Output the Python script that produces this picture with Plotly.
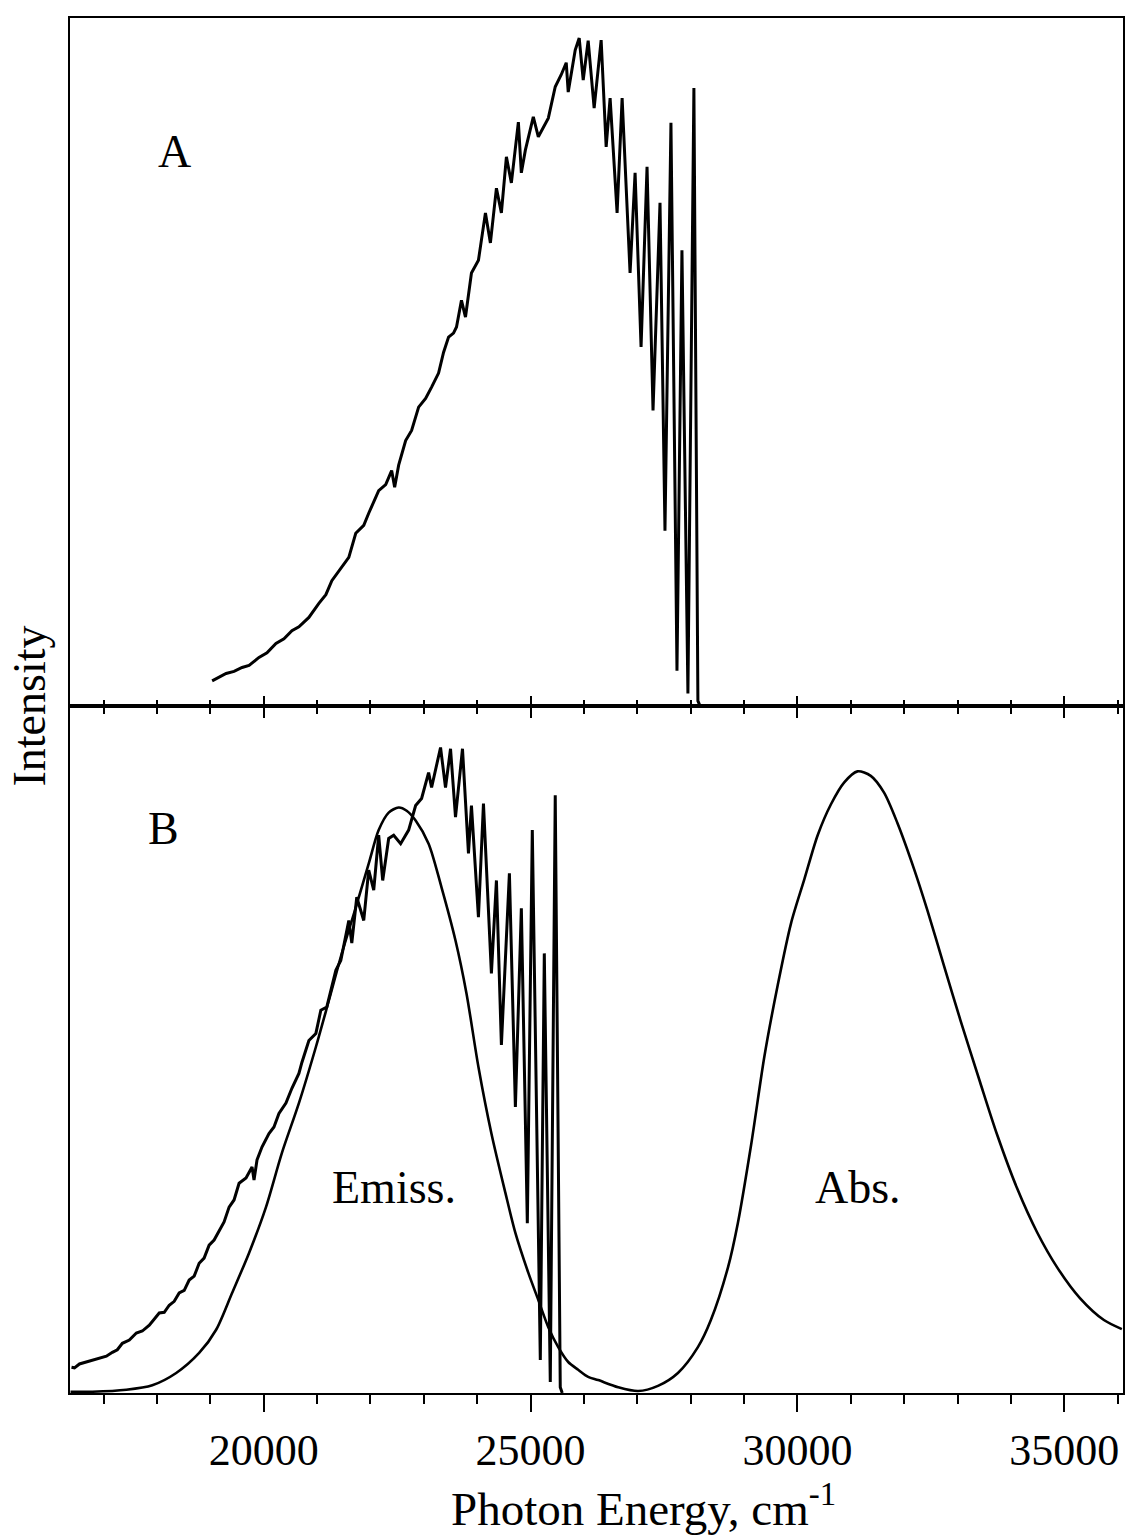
import plotly.graph_objects as go
from plotly.subplots import make_subplots

# Panel A emission spectrum (photon energy cm^-1, relative intensity)
a_energy = [19033, 19164, 19295, 19444, 19594, 19725, 19911, 20061, 20229, 20379,
            20528, 20659, 20846, 21033, 21164, 21276, 21463, 21594, 21724, 21874,
            21967, 22154, 22285, 22397, 22453, 22528, 22659, 22771, 22902, 23033,
            23145, 23276, 23369, 23463, 23556, 23612, 23705, 23780, 23892, 24023,
            24154, 24247, 24360, 24453, 24547, 24640, 24771, 24827, 24902, 25051,
            25145, 25238, 25332, 25462, 25574, 25668, 25705, 25836, 25911, 25986,
            26079, 26191, 26322, 26416, 26490, 26621, 26715, 26864, 26958, 27070,
            27182, 27294, 27425, 27518, 27630, 27743, 27836, 27948, 28060, 28135,
            28172]
a_intensity = [3.7, 4.3, 4.8, 5.1, 5.7, 6.0, 7.2, 7.9, 9.3, 10.0,
               11.2, 11.8, 13.2, 15.3, 16.6, 18.7, 20.7, 22.2, 25.8, 27.0,
               28.8, 32.2, 33.1, 35.2, 32.7, 36.0, 39.7, 41.2, 44.7, 46.0,
               47.7, 49.8, 52.9, 55.2, 55.8, 56.7, 60.7, 58.2, 64.8, 66.7,
               73.8, 69.3, 77.5, 73.8, 82.2, 78.3, 87.4, 79.8, 83.2, 88.2,
               85.2, 86.5, 88.0, 92.7, 94.5, 96.3, 91.9, 98.2, 100.0, 93.7,
               99.6, 89.5, 99.7, 83.7, 91.0, 73.8, 91.0, 64.8, 79.8, 53.7,
               80.7, 44.2, 75.3, 26.2, 87.3, 5.2, 68.2, 1.8, 92.5, 0.7,
               0.0]

# Panel B emission spectrum
b_energy = [16398, 16454, 16547, 16678, 16790, 16921, 17052, 17164, 17257, 17351,
            17482, 17613, 17725, 17856, 18042, 18136, 18229, 18323, 18416, 18510,
            18603, 18697, 18790, 18883, 18977, 19070, 19164, 19257, 19351, 19444,
            19538, 19668, 19781, 19818, 19874, 19967, 20098, 20192, 20285, 20416,
            20528, 20659, 20715, 20846, 20977, 21070, 21182, 21276, 21351, 21444,
            21537, 21594, 21650, 21743, 21874, 21967, 22061, 22154, 22229, 22341,
            22435, 22565, 22715, 22846, 22958, 23033, 23089, 23145, 23276, 23313,
            23406, 23500, 23593, 23724, 23836, 23892, 24023, 24117, 24266, 24360,
            24453, 24603, 24715, 24827, 24939, 25032, 25182, 25257, 25369, 25462,
            25556, 25593]
b_intensity = [4.0, 3.9, 4.5, 4.8, 5.0, 5.4, 5.7, 6.3, 6.7, 7.7,
               8.2, 9.3, 9.6, 10.5, 12.4, 12.5, 13.6, 14.2, 15.5, 15.9,
               17.5, 18.1, 20.1, 20.9, 22.9, 23.7, 25.2, 26.5, 28.8, 29.9,
               32.5, 33.3, 35.0, 33.0, 36.1, 38.1, 40.2, 41.2, 43.3, 44.9,
               47.2, 49.5, 51.2, 54.6, 55.7, 59.3, 59.8, 63.2, 65.5, 67.0,
               70.6, 73.2, 69.7, 76.8, 73.2, 81.0, 77.9, 86.4, 79.4, 85.9,
               86.4, 85.1, 87.2, 91.0, 92.1, 94.4, 96.1, 93.8, 98.5, 100.0,
               93.8, 99.8, 89.2, 99.8, 83.6, 91.0, 73.7, 91.3, 65.0, 79.4,
               53.9, 80.5, 44.3, 75.1, 26.3, 87.2, 5.1, 68.1, 1.7, 92.6,
               0.9, 0.0]

# Panel B smooth emission + absorption band
s_energy = [16380, 16790, 17426, 17912, 18360, 18790, 19108, 19407, 19725, 20042,
            20341, 20659, 20977, 21220, 21463, 21724, 21967, 22154, 22341, 22528,
            22678, 22846, 23089, 23332, 23593, 23799, 24023, 24266, 24528, 24715,
            24958, 25145, 25332, 25518, 25705, 25892, 26079, 26266, 26640, 27014,
            27387, 27761, 28135, 28378, 28700, 28883, 29133, 29382, 29631, 29881,
            30130, 30379, 30628, 30877, 31125, 31374, 31623, 31873, 32184, 32434,
            32745, 33056, 33424, 33742, 34116, 34490, 34863, 35293, 35742, 36078]
s_intensity = [0.2, 0.2, 0.5, 1.2, 3.1, 6.2, 9.8, 15.5, 21.7, 28.8,
               37.2, 44.9, 53.6, 60.8, 68.1, 75.2, 82.0, 87.2, 89.9, 90.7,
               90.2, 88.7, 85.1, 78.3, 70.1, 61.9, 50.5, 40.2, 31.0, 24.8,
               18.6, 14.4, 10.2, 7.1, 4.8, 3.6, 2.5, 2.0, 0.9, 0.3,
               1.1, 3.1, 7.1, 11.3, 19.5, 26.3, 38.5, 52.2, 63.2, 72.8,
               79.6, 86.4, 91.2, 94.6, 96.3, 95.6, 93.0, 88.3, 81.2, 74.8,
               66.2, 57.7, 48.1, 40.0, 31.7, 24.9, 19.5, 14.7, 11.3, 9.9]

x_range = [16370, 36100]
x_ticks = [20000, 25000, 30000, 35000]
x_ticklabels = ["20000", "25000", "30000", "35000"]

FONT = "Liberation Serif"
LW = 3.0

fig = make_subplots(rows=2, cols=1, shared_xaxes=True, vertical_spacing=0)

fig.add_trace(go.Scatter(x=a_energy, y=a_intensity, mode="lines",
                         line=dict(color="black", width=LW), showlegend=False), row=1, col=1)
fig.add_trace(go.Scatter(x=b_energy, y=b_intensity, mode="lines",
                         line=dict(color="black", width=LW), showlegend=False), row=2, col=1)
fig.add_trace(go.Scatter(x=s_energy, y=s_intensity, mode="lines",
                         line=dict(color="black", width=2.6, shape="spline", smoothing=0.8),
                         showlegend=False), row=2, col=1)
# helper trace for the upward ticks on the shared middle axis
fig.add_trace(go.Scatter(x=[None], y=[None], xaxis="x3", yaxis="y", showlegend=False))

common_x = dict(range=x_range, showline=True, linecolor="black", linewidth=2,
                showgrid=False, zeroline=False, tickvals=x_ticks, ticktext=x_ticklabels,
                tickcolor="black", tickwidth=2)

fig.update_xaxes(**common_x)
fig.update_layout(
    xaxis=dict(mirror=True, ticks="outside", ticklen=10, showticklabels=False,
               minor=dict(dtick=1000, tick0=0, ticks="outside", ticklen=6,
                          tickcolor="black", tickwidth=2)),
    xaxis2=dict(mirror=True, ticks="outside", ticklen=17, showticklabels=True,
                tickfont=dict(family=FONT, size=44, color="black"),
                minor=dict(dtick=1000, tick0=0, ticks="outside", ticklen=9,
                           tickcolor="black", tickwidth=2)),
    xaxis3=dict(overlaying="x", anchor="y", side="bottom", range=x_range,
                showline=False, showgrid=False, zeroline=False,
                tickvals=x_ticks, ticks="inside", ticklen=10, tickcolor="black",
                tickwidth=2, showticklabels=False,
                minor=dict(dtick=1000, tick0=0, ticks="inside", ticklen=6,
                           tickcolor="black", tickwidth=2)),
)

fig.update_yaxes(showline=True, linecolor="black", linewidth=2, mirror=True,
                 showgrid=False, zeroline=False, showticklabels=False, ticks="")
fig.update_layout(yaxis=dict(range=[0, 103]), yaxis2=dict(range=[0, 106.5]))

ann_font = dict(family=FONT, size=46, color="black")
fig.add_annotation(x=18330, y=83.0, xref="x", yref="y", text="A", showarrow=False,
                   font=ann_font)
fig.add_annotation(x=18130, y=87.5, xref="x2", yref="y2", text="B", showarrow=False,
                   font=ann_font)
fig.add_annotation(x=22440, y=31.8, xref="x2", yref="y2", text="Emiss.", showarrow=False,
                   font=ann_font)
fig.add_annotation(x=31140, y=31.8, xref="x2", yref="y2", text="Abs.", showarrow=False,
                   font=ann_font)
fig.add_annotation(x=-0.038, y=0.5, xref="paper", yref="paper", text="Intensity",
                   textangle=-90, showarrow=False, xanchor="center", yanchor="middle",
                   font=ann_font)
fig.add_annotation(x=0.545, y=-0.0815, xref="paper", yref="paper",
                   text="Photon Energy, cm<sup>-1</sup>", showarrow=False,
                   xanchor="center", yanchor="middle",
                   font=dict(family=FONT, size=47, color="black"))

fig.update_layout(width=1128, height=1538, plot_bgcolor="white", paper_bgcolor="white",
                  margin=dict(l=70, r=3, t=18, b=145), showlegend=False)

fig.write_html("out.html", config={"displayModeBar": False},
               post_script="document.body.style.margin='0';document.body.style.padding='0';")
